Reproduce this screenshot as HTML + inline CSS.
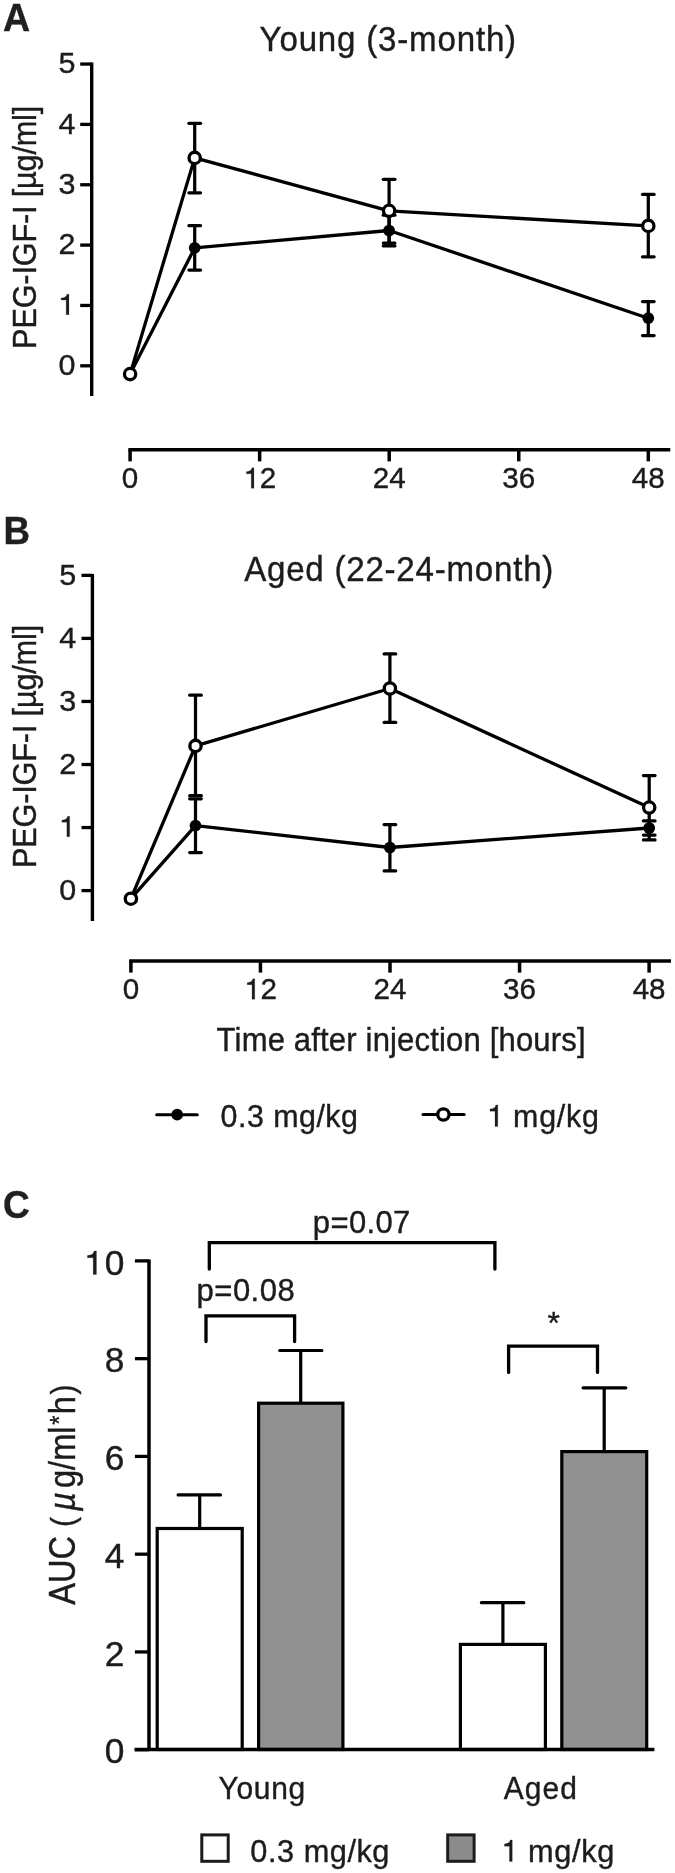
<!DOCTYPE html>
<html><head><meta charset="utf-8"><title>Figure</title>
<style>
html,body{margin:0;padding:0;background:#fff;}
svg{display:block;filter:grayscale(1);}
text{font-family:"Liberation Sans",sans-serif;font-kerning:normal;white-space:pre;}
</style></head><body>
<svg width="675" height="1873" viewBox="0 0 675 1873">
<rect width="675" height="1873" fill="#fff"/>
<text transform="translate(4.00,30.70) scale(0.9581,1)" x="-0.98" y="0" style="font-size:39.2px;letter-spacing:0.000px;font-weight:bold;" fill="#231f20" stroke="#231f20" stroke-width="0.4">A</text>
<text transform="translate(6.00,543.60) scale(0.9368,1)" x="-2.62" y="0" style="font-size:39.2px;letter-spacing:0.000px;font-weight:bold;" fill="#231f20" stroke="#231f20" stroke-width="0.4">B</text>
<text transform="translate(4.40,1217.70) scale(0.9348,1)" x="-1.62" y="0" style="font-size:39.6px;letter-spacing:0.000px;font-weight:bold;" fill="#231f20" stroke="#231f20" stroke-width="0.4">C</text>
<text transform="translate(260.30,50.90) scale(0.9400,1)" x="-0.77" y="0" style="font-size:35.2px;letter-spacing:0.860px;" fill="#1c1c1c" stroke="#1c1c1c" stroke-width="0.4">Young (3-month)</text>
<text transform="translate(35.60,346.40) rotate(-90) scale(0.9400,1)" x="-2.68" y="0" style="font-size:32.7px;letter-spacing:-0.216px;" fill="#1c1c1c" stroke="#1c1c1c" stroke-width="0.4">PEG-IGF-I [µg/ml]</text>
<line x1="91.70" y1="62.40" x2="91.70" y2="396.00" stroke="#000" stroke-width="3.4" stroke-linecap="butt"/>
<line x1="80.20" y1="365.80" x2="91.70" y2="365.80" stroke="#000" stroke-width="3.3" stroke-linecap="butt"/>
<text transform="translate(58.59,375.00) scale(1.0100,1)" x="0" y="0" text-anchor="start" style="font-size:30.2px;" fill="#1c1c1c" stroke="#1c1c1c" stroke-width="0.4">0</text>
<line x1="80.20" y1="305.45" x2="91.70" y2="305.45" stroke="#000" stroke-width="3.3" stroke-linecap="butt"/>
<path transform="translate(58.59,314.65) scale(30.502,-30.200)" d="M0.340 0 L0.340 0.678 L0.274 0.678 C0.262 0.602 0.200 0.554 0.084 0.550 L0.084 0.482 L0.248 0.482 L0.248 0 Z" fill="#1c1c1c" stroke="#1c1c1c" stroke-width="0.0066"/>
<line x1="80.20" y1="245.10" x2="91.70" y2="245.10" stroke="#000" stroke-width="3.3" stroke-linecap="butt"/>
<text transform="translate(58.59,254.30) scale(1.0100,1)" x="0" y="0" text-anchor="start" style="font-size:30.2px;" fill="#1c1c1c" stroke="#1c1c1c" stroke-width="0.4">2</text>
<line x1="80.20" y1="184.75" x2="91.70" y2="184.75" stroke="#000" stroke-width="3.3" stroke-linecap="butt"/>
<text transform="translate(58.59,193.95) scale(1.0100,1)" x="0" y="0" text-anchor="start" style="font-size:30.2px;" fill="#1c1c1c" stroke="#1c1c1c" stroke-width="0.4">3</text>
<line x1="80.20" y1="124.40" x2="91.70" y2="124.40" stroke="#000" stroke-width="3.3" stroke-linecap="butt"/>
<text transform="translate(58.59,133.60) scale(1.0100,1)" x="0" y="0" text-anchor="start" style="font-size:30.2px;" fill="#1c1c1c" stroke="#1c1c1c" stroke-width="0.4">4</text>
<line x1="80.20" y1="64.05" x2="91.70" y2="64.05" stroke="#000" stroke-width="3.3" stroke-linecap="butt"/>
<text transform="translate(58.59,73.25) scale(1.0100,1)" x="0" y="0" text-anchor="start" style="font-size:30.2px;" fill="#1c1c1c" stroke="#1c1c1c" stroke-width="0.4">5</text>
<line x1="128.35" y1="449.75" x2="670.30" y2="449.75" stroke="#000" stroke-width="3.5" stroke-linecap="butt"/>
<line x1="130.10" y1="449.75" x2="130.10" y2="461.35" stroke="#000" stroke-width="3.5" stroke-linecap="butt"/>
<text transform="translate(121.87,488.30) scale(0.9800,1)" x="0" y="0" text-anchor="start" style="font-size:30.2px;" fill="#1c1c1c" stroke="#1c1c1c" stroke-width="0.4">0</text>
<line x1="259.65" y1="449.75" x2="259.65" y2="461.35" stroke="#000" stroke-width="3.5" stroke-linecap="butt"/>
<path transform="translate(243.89,488.30) scale(29.596,-30.200)" d="M0.340 0 L0.340 0.678 L0.274 0.678 C0.262 0.602 0.200 0.554 0.084 0.550 L0.084 0.482 L0.248 0.482 L0.248 0 Z" fill="#1c1c1c" stroke="#1c1c1c" stroke-width="0.0066"/>
<text transform="translate(259.65,488.30) scale(0.9800,1)" x="0" y="0" text-anchor="start" style="font-size:30.2px;" fill="#1c1c1c" stroke="#1c1c1c" stroke-width="0.4">2</text>
<line x1="389.20" y1="449.75" x2="389.20" y2="461.35" stroke="#000" stroke-width="3.5" stroke-linecap="butt"/>
<text transform="translate(372.74,488.30) scale(0.9800,1)" x="0" y="0" text-anchor="start" style="font-size:30.2px;" fill="#1c1c1c" stroke="#1c1c1c" stroke-width="0.4">2</text>
<text transform="translate(389.20,488.30) scale(0.9800,1)" x="0" y="0" text-anchor="start" style="font-size:30.2px;" fill="#1c1c1c" stroke="#1c1c1c" stroke-width="0.4">4</text>
<line x1="518.76" y1="449.75" x2="518.76" y2="461.35" stroke="#000" stroke-width="3.5" stroke-linecap="butt"/>
<text transform="translate(502.30,488.30) scale(0.9800,1)" x="0" y="0" text-anchor="start" style="font-size:30.2px;" fill="#1c1c1c" stroke="#1c1c1c" stroke-width="0.4">3</text>
<text transform="translate(518.76,488.30) scale(0.9800,1)" x="0" y="0" text-anchor="start" style="font-size:30.2px;" fill="#1c1c1c" stroke="#1c1c1c" stroke-width="0.4">6</text>
<line x1="648.31" y1="449.75" x2="648.31" y2="461.35" stroke="#000" stroke-width="3.5" stroke-linecap="butt"/>
<text transform="translate(631.85,488.30) scale(0.9800,1)" x="0" y="0" text-anchor="start" style="font-size:30.2px;" fill="#1c1c1c" stroke="#1c1c1c" stroke-width="0.4">4</text>
<text transform="translate(648.31,488.30) scale(0.9800,1)" x="0" y="0" text-anchor="start" style="font-size:30.2px;" fill="#1c1c1c" stroke="#1c1c1c" stroke-width="0.4">8</text>
<polyline points="130.10,374.10 194.70,247.90 389.10,230.50 648.30,318.20" fill="none" stroke="#000" stroke-width="3.3" stroke-linejoin="round"/>
<polyline points="130.10,374.10 194.70,157.90 389.10,210.80 648.30,225.90" fill="none" stroke="#000" stroke-width="3.3" stroke-linejoin="round"/>
<line x1="194.70" y1="225.70" x2="194.70" y2="270.00" stroke="#000" stroke-width="3.25" stroke-linecap="butt"/>
<line x1="188.90" y1="225.70" x2="200.50" y2="225.70" stroke="#000" stroke-width="3.25" stroke-linecap="round"/>
<line x1="188.90" y1="270.00" x2="200.50" y2="270.00" stroke="#000" stroke-width="3.25" stroke-linecap="round"/>
<line x1="389.10" y1="215.20" x2="389.10" y2="245.90" stroke="#000" stroke-width="3.25" stroke-linecap="butt"/>
<line x1="383.30" y1="215.20" x2="394.90" y2="215.20" stroke="#000" stroke-width="3.25" stroke-linecap="round"/>
<line x1="383.30" y1="245.90" x2="394.90" y2="245.90" stroke="#000" stroke-width="3.25" stroke-linecap="round"/>
<line x1="648.30" y1="301.50" x2="648.30" y2="335.60" stroke="#000" stroke-width="3.25" stroke-linecap="butt"/>
<line x1="642.50" y1="301.50" x2="654.10" y2="301.50" stroke="#000" stroke-width="3.25" stroke-linecap="round"/>
<line x1="642.50" y1="335.60" x2="654.10" y2="335.60" stroke="#000" stroke-width="3.25" stroke-linecap="round"/>
<line x1="194.70" y1="123.30" x2="194.70" y2="192.80" stroke="#000" stroke-width="3.25" stroke-linecap="butt"/>
<line x1="188.90" y1="123.30" x2="200.50" y2="123.30" stroke="#000" stroke-width="3.25" stroke-linecap="round"/>
<line x1="188.90" y1="192.80" x2="200.50" y2="192.80" stroke="#000" stroke-width="3.25" stroke-linecap="round"/>
<line x1="389.10" y1="179.30" x2="389.10" y2="243.10" stroke="#000" stroke-width="3.25" stroke-linecap="butt"/>
<line x1="383.30" y1="179.30" x2="394.90" y2="179.30" stroke="#000" stroke-width="3.25" stroke-linecap="round"/>
<line x1="383.30" y1="243.10" x2="394.90" y2="243.10" stroke="#000" stroke-width="3.25" stroke-linecap="round"/>
<line x1="648.30" y1="194.40" x2="648.30" y2="256.80" stroke="#000" stroke-width="3.25" stroke-linecap="butt"/>
<line x1="642.50" y1="194.40" x2="654.10" y2="194.40" stroke="#000" stroke-width="3.25" stroke-linecap="round"/>
<line x1="642.50" y1="256.80" x2="654.10" y2="256.80" stroke="#000" stroke-width="3.25" stroke-linecap="round"/>
<circle cx="130.10" cy="374.10" r="5.85" fill="#000"/>
<circle cx="194.70" cy="247.90" r="5.85" fill="#000"/>
<circle cx="389.10" cy="230.50" r="5.85" fill="#000"/>
<circle cx="648.30" cy="318.20" r="5.85" fill="#000"/>
<circle cx="130.10" cy="374.10" r="5.65" fill="#fff" stroke="#000" stroke-width="3.3"/>
<circle cx="194.70" cy="157.90" r="5.65" fill="#fff" stroke="#000" stroke-width="3.3"/>
<circle cx="389.10" cy="210.80" r="5.65" fill="#fff" stroke="#000" stroke-width="3.3"/>
<circle cx="648.30" cy="225.90" r="5.65" fill="#fff" stroke="#000" stroke-width="3.3"/>
<text transform="translate(244.20,581.00) scale(0.9400,1)" x="-0.07" y="0" style="font-size:35.2px;letter-spacing:0.820px;" fill="#1c1c1c" stroke="#1c1c1c" stroke-width="0.4">Aged (22-24-month)</text>
<text transform="translate(36.20,865.60) rotate(-90) scale(0.9400,1)" x="-2.68" y="0" style="font-size:32.7px;letter-spacing:-0.209px;" fill="#1c1c1c" stroke="#1c1c1c" stroke-width="0.4">PEG-IGF-I [µg/ml]</text>
<line x1="92.40" y1="573.90" x2="92.40" y2="920.90" stroke="#000" stroke-width="3.4" stroke-linecap="butt"/>
<line x1="81.50" y1="890.60" x2="92.40" y2="890.60" stroke="#000" stroke-width="3.3" stroke-linecap="butt"/>
<text transform="translate(59.29,899.80) scale(1.0100,1)" x="0" y="0" text-anchor="start" style="font-size:30.2px;" fill="#1c1c1c" stroke="#1c1c1c" stroke-width="0.4">0</text>
<line x1="81.50" y1="827.55" x2="92.40" y2="827.55" stroke="#000" stroke-width="3.3" stroke-linecap="butt"/>
<path transform="translate(59.29,836.75) scale(30.502,-30.200)" d="M0.340 0 L0.340 0.678 L0.274 0.678 C0.262 0.602 0.200 0.554 0.084 0.550 L0.084 0.482 L0.248 0.482 L0.248 0 Z" fill="#1c1c1c" stroke="#1c1c1c" stroke-width="0.0066"/>
<line x1="81.50" y1="764.50" x2="92.40" y2="764.50" stroke="#000" stroke-width="3.3" stroke-linecap="butt"/>
<text transform="translate(59.29,773.70) scale(1.0100,1)" x="0" y="0" text-anchor="start" style="font-size:30.2px;" fill="#1c1c1c" stroke="#1c1c1c" stroke-width="0.4">2</text>
<line x1="81.50" y1="701.45" x2="92.40" y2="701.45" stroke="#000" stroke-width="3.3" stroke-linecap="butt"/>
<text transform="translate(59.29,710.65) scale(1.0100,1)" x="0" y="0" text-anchor="start" style="font-size:30.2px;" fill="#1c1c1c" stroke="#1c1c1c" stroke-width="0.4">3</text>
<line x1="81.50" y1="638.40" x2="92.40" y2="638.40" stroke="#000" stroke-width="3.3" stroke-linecap="butt"/>
<text transform="translate(59.29,647.60) scale(1.0100,1)" x="0" y="0" text-anchor="start" style="font-size:30.2px;" fill="#1c1c1c" stroke="#1c1c1c" stroke-width="0.4">4</text>
<line x1="81.50" y1="575.35" x2="92.40" y2="575.35" stroke="#000" stroke-width="3.3" stroke-linecap="butt"/>
<text transform="translate(59.29,584.55) scale(1.0100,1)" x="0" y="0" text-anchor="start" style="font-size:30.2px;" fill="#1c1c1c" stroke="#1c1c1c" stroke-width="0.4">5</text>
<line x1="129.15" y1="961.00" x2="671.00" y2="961.00" stroke="#000" stroke-width="3.5" stroke-linecap="butt"/>
<line x1="130.90" y1="961.00" x2="130.90" y2="972.60" stroke="#000" stroke-width="3.5" stroke-linecap="butt"/>
<text transform="translate(122.67,999.30) scale(0.9800,1)" x="0" y="0" text-anchor="start" style="font-size:30.2px;" fill="#1c1c1c" stroke="#1c1c1c" stroke-width="0.4">0</text>
<line x1="260.45" y1="961.00" x2="260.45" y2="972.60" stroke="#000" stroke-width="3.5" stroke-linecap="butt"/>
<path transform="translate(244.69,999.30) scale(29.596,-30.200)" d="M0.340 0 L0.340 0.678 L0.274 0.678 C0.262 0.602 0.200 0.554 0.084 0.550 L0.084 0.482 L0.248 0.482 L0.248 0 Z" fill="#1c1c1c" stroke="#1c1c1c" stroke-width="0.0066"/>
<text transform="translate(260.45,999.30) scale(0.9800,1)" x="0" y="0" text-anchor="start" style="font-size:30.2px;" fill="#1c1c1c" stroke="#1c1c1c" stroke-width="0.4">2</text>
<line x1="390.00" y1="961.00" x2="390.00" y2="972.60" stroke="#000" stroke-width="3.5" stroke-linecap="butt"/>
<text transform="translate(373.54,999.30) scale(0.9800,1)" x="0" y="0" text-anchor="start" style="font-size:30.2px;" fill="#1c1c1c" stroke="#1c1c1c" stroke-width="0.4">2</text>
<text transform="translate(390.00,999.30) scale(0.9800,1)" x="0" y="0" text-anchor="start" style="font-size:30.2px;" fill="#1c1c1c" stroke="#1c1c1c" stroke-width="0.4">4</text>
<line x1="519.56" y1="961.00" x2="519.56" y2="972.60" stroke="#000" stroke-width="3.5" stroke-linecap="butt"/>
<text transform="translate(503.10,999.30) scale(0.9800,1)" x="0" y="0" text-anchor="start" style="font-size:30.2px;" fill="#1c1c1c" stroke="#1c1c1c" stroke-width="0.4">3</text>
<text transform="translate(519.56,999.30) scale(0.9800,1)" x="0" y="0" text-anchor="start" style="font-size:30.2px;" fill="#1c1c1c" stroke="#1c1c1c" stroke-width="0.4">6</text>
<line x1="649.11" y1="961.00" x2="649.11" y2="972.60" stroke="#000" stroke-width="3.5" stroke-linecap="butt"/>
<text transform="translate(632.65,999.30) scale(0.9800,1)" x="0" y="0" text-anchor="start" style="font-size:30.2px;" fill="#1c1c1c" stroke="#1c1c1c" stroke-width="0.4">4</text>
<text transform="translate(649.11,999.30) scale(0.9800,1)" x="0" y="0" text-anchor="start" style="font-size:30.2px;" fill="#1c1c1c" stroke="#1c1c1c" stroke-width="0.4">8</text>
<polyline points="130.90,898.70 195.50,825.60 389.90,847.50 649.20,828.00" fill="none" stroke="#000" stroke-width="3.3" stroke-linejoin="round"/>
<polyline points="130.90,898.70 195.50,745.90 389.90,688.50 649.20,807.60" fill="none" stroke="#000" stroke-width="3.3" stroke-linejoin="round"/>
<line x1="195.50" y1="798.80" x2="195.50" y2="852.50" stroke="#000" stroke-width="3.25" stroke-linecap="butt"/>
<line x1="189.70" y1="798.80" x2="201.30" y2="798.80" stroke="#000" stroke-width="3.25" stroke-linecap="round"/>
<line x1="189.70" y1="852.50" x2="201.30" y2="852.50" stroke="#000" stroke-width="3.25" stroke-linecap="round"/>
<line x1="389.90" y1="824.50" x2="389.90" y2="870.90" stroke="#000" stroke-width="3.25" stroke-linecap="butt"/>
<line x1="384.10" y1="824.50" x2="395.70" y2="824.50" stroke="#000" stroke-width="3.25" stroke-linecap="round"/>
<line x1="384.10" y1="870.90" x2="395.70" y2="870.90" stroke="#000" stroke-width="3.25" stroke-linecap="round"/>
<line x1="649.20" y1="820.90" x2="649.20" y2="835.10" stroke="#000" stroke-width="3.25" stroke-linecap="butt"/>
<line x1="643.40" y1="820.90" x2="655.00" y2="820.90" stroke="#000" stroke-width="3.25" stroke-linecap="round"/>
<line x1="643.40" y1="835.10" x2="655.00" y2="835.10" stroke="#000" stroke-width="3.25" stroke-linecap="round"/>
<line x1="195.50" y1="695.20" x2="195.50" y2="795.70" stroke="#000" stroke-width="3.25" stroke-linecap="butt"/>
<line x1="189.70" y1="695.20" x2="201.30" y2="695.20" stroke="#000" stroke-width="3.25" stroke-linecap="round"/>
<line x1="189.70" y1="795.70" x2="201.30" y2="795.70" stroke="#000" stroke-width="3.25" stroke-linecap="round"/>
<line x1="389.90" y1="653.90" x2="389.90" y2="722.40" stroke="#000" stroke-width="3.25" stroke-linecap="butt"/>
<line x1="384.10" y1="653.90" x2="395.70" y2="653.90" stroke="#000" stroke-width="3.25" stroke-linecap="round"/>
<line x1="384.10" y1="722.40" x2="395.70" y2="722.40" stroke="#000" stroke-width="3.25" stroke-linecap="round"/>
<line x1="649.20" y1="775.60" x2="649.20" y2="839.90" stroke="#000" stroke-width="3.25" stroke-linecap="butt"/>
<line x1="643.40" y1="775.60" x2="655.00" y2="775.60" stroke="#000" stroke-width="3.25" stroke-linecap="round"/>
<line x1="643.40" y1="839.90" x2="655.00" y2="839.90" stroke="#000" stroke-width="3.25" stroke-linecap="round"/>
<circle cx="130.90" cy="898.70" r="5.85" fill="#000"/>
<circle cx="195.50" cy="825.60" r="5.85" fill="#000"/>
<circle cx="389.90" cy="847.50" r="5.85" fill="#000"/>
<circle cx="649.20" cy="828.00" r="5.85" fill="#000"/>
<circle cx="130.90" cy="898.70" r="5.65" fill="#fff" stroke="#000" stroke-width="3.3"/>
<circle cx="195.50" cy="745.90" r="5.65" fill="#fff" stroke="#000" stroke-width="3.3"/>
<circle cx="389.90" cy="688.50" r="5.65" fill="#fff" stroke="#000" stroke-width="3.3"/>
<circle cx="649.20" cy="807.60" r="5.65" fill="#fff" stroke="#000" stroke-width="3.3"/>
<text transform="translate(217.30,1050.60) scale(0.9500,1)" x="-0.73" y="0" style="font-size:32.7px;letter-spacing:0.167px;" fill="#1c1c1c" stroke="#1c1c1c" stroke-width="0.4">Time after injection [hours]</text>
<line x1="156.70" y1="1114.70" x2="197.30" y2="1114.70" stroke="#000" stroke-width="3" stroke-linecap="round"/>
<circle cx="177.20" cy="1114.70" r="5.85" fill="#000"/>
<text transform="translate(221.80,1126.60) scale(0.9500,1)" x="-1.25" y="0" style="font-size:32px;letter-spacing:0.508px;" fill="#1c1c1c" stroke="#1c1c1c" stroke-width="0.4">0.3 mg/kg</text>
<line x1="423.00" y1="1114.50" x2="464.20" y2="1114.50" stroke="#000" stroke-width="3" stroke-linecap="round"/>
<circle cx="443.40" cy="1114.50" r="5.65" fill="#fff" stroke="#000" stroke-width="3.3"/>
<path transform="translate(487.45,1126.60) scale(30.400,-32.000)" d="M0.340 0 L0.340 0.678 L0.274 0.678 C0.262 0.602 0.200 0.554 0.084 0.550 L0.084 0.482 L0.248 0.482 L0.248 0 Z" fill="#1c1c1c" stroke="#1c1c1c" stroke-width="0.0063"/>
<text transform="translate(515.10,1126.60) scale(0.9500,1)" x="-2.12" y="0" style="font-size:32px;letter-spacing:0.788px;" fill="#1c1c1c" stroke="#1c1c1c" stroke-width="0.4">mg/kg</text>
<line x1="149.00" y1="1259.50" x2="149.00" y2="1749.50" stroke="#000" stroke-width="3.5" stroke-linecap="butt"/>
<line x1="134.90" y1="1749.70" x2="149.00" y2="1749.70" stroke="#000" stroke-width="3.3" stroke-linecap="butt"/>
<text transform="translate(104.87,1763.30) scale(1.0200,1)" x="0" y="0" text-anchor="start" style="font-size:34.6px;" fill="#1c1c1c" stroke="#1c1c1c" stroke-width="0.4">0</text>
<line x1="134.90" y1="1651.94" x2="149.00" y2="1651.94" stroke="#000" stroke-width="3.3" stroke-linecap="butt"/>
<text transform="translate(104.87,1665.54) scale(1.0200,1)" x="0" y="0" text-anchor="start" style="font-size:34.6px;" fill="#1c1c1c" stroke="#1c1c1c" stroke-width="0.4">2</text>
<line x1="134.90" y1="1554.18" x2="149.00" y2="1554.18" stroke="#000" stroke-width="3.3" stroke-linecap="butt"/>
<text transform="translate(104.87,1567.78) scale(1.0200,1)" x="0" y="0" text-anchor="start" style="font-size:34.6px;" fill="#1c1c1c" stroke="#1c1c1c" stroke-width="0.4">4</text>
<line x1="134.90" y1="1456.42" x2="149.00" y2="1456.42" stroke="#000" stroke-width="3.3" stroke-linecap="butt"/>
<text transform="translate(104.87,1470.02) scale(1.0200,1)" x="0" y="0" text-anchor="start" style="font-size:34.6px;" fill="#1c1c1c" stroke="#1c1c1c" stroke-width="0.4">6</text>
<line x1="134.90" y1="1358.66" x2="149.00" y2="1358.66" stroke="#000" stroke-width="3.3" stroke-linecap="butt"/>
<text transform="translate(104.87,1372.26) scale(1.0200,1)" x="0" y="0" text-anchor="start" style="font-size:34.6px;" fill="#1c1c1c" stroke="#1c1c1c" stroke-width="0.4">8</text>
<line x1="134.90" y1="1260.90" x2="149.00" y2="1260.90" stroke="#000" stroke-width="3.3" stroke-linecap="butt"/>
<path transform="translate(84.44,1274.50) scale(35.292,-34.600)" d="M0.340 0 L0.340 0.678 L0.274 0.678 C0.262 0.602 0.200 0.554 0.084 0.550 L0.084 0.482 L0.248 0.482 L0.248 0 Z" fill="#1c1c1c" stroke="#1c1c1c" stroke-width="0.0058"/>
<text transform="translate(104.87,1274.50) scale(1.0200,1)" x="0" y="0" text-anchor="start" style="font-size:34.6px;" fill="#1c1c1c" stroke="#1c1c1c" stroke-width="0.4">0</text>
<line x1="199.70" y1="1494.90" x2="199.70" y2="1528.50" stroke="#000" stroke-width="3.2" stroke-linecap="butt"/>
<line x1="178.10" y1="1494.90" x2="220.50" y2="1494.90" stroke="#000" stroke-width="3.2" stroke-linecap="round"/>
<line x1="300.70" y1="1350.50" x2="300.70" y2="1403.20" stroke="#000" stroke-width="3.2" stroke-linecap="butt"/>
<line x1="279.70" y1="1350.50" x2="321.80" y2="1350.50" stroke="#000" stroke-width="3.2" stroke-linecap="round"/>
<line x1="502.90" y1="1602.70" x2="502.90" y2="1644.40" stroke="#000" stroke-width="3.2" stroke-linecap="butt"/>
<line x1="481.40" y1="1602.70" x2="523.80" y2="1602.70" stroke="#000" stroke-width="3.2" stroke-linecap="round"/>
<line x1="604.20" y1="1387.80" x2="604.20" y2="1451.60" stroke="#000" stroke-width="3.2" stroke-linecap="butt"/>
<line x1="583.10" y1="1387.80" x2="625.80" y2="1387.80" stroke="#000" stroke-width="3.2" stroke-linecap="round"/>
<rect x="157.20" y="1528.50" width="85.00" height="221.00" fill="#fff" stroke="#000" stroke-width="3.2"/>
<rect x="258.60" y="1403.20" width="84.30" height="346.30" fill="#919191" stroke="#000" stroke-width="3.2"/>
<rect x="460.40" y="1644.40" width="85.00" height="105.10" fill="#fff" stroke="#000" stroke-width="3.2"/>
<rect x="561.80" y="1451.60" width="84.90" height="297.90" fill="#919191" stroke="#000" stroke-width="3.2"/>
<line x1="134.50" y1="1749.50" x2="654.40" y2="1749.50" stroke="#000" stroke-width="3.5" stroke-linecap="butt"/>
<polyline points="209.30,1269.00 209.30,1242.70 494.90,1242.70 494.90,1269.00" fill="none" stroke="#000" stroke-width="3.3" stroke-linecap="round" stroke-linejoin="miter"/>
<polyline points="206.00,1341.50 206.00,1315.90 294.60,1315.90 294.60,1341.50" fill="none" stroke="#000" stroke-width="3.3" stroke-linecap="round" stroke-linejoin="miter"/>
<polyline points="508.60,1372.40 508.60,1346.20 597.50,1346.20 597.50,1372.40" fill="none" stroke="#000" stroke-width="3.3" stroke-linecap="round" stroke-linejoin="miter"/>
<text transform="translate(314.80,1232.70) scale(0.9700,1)" x="-2.06" y="0" style="font-size:32px;letter-spacing:0.363px;" fill="#1c1c1c" stroke="#1c1c1c" stroke-width="0.4">p=0.07</text>
<text transform="translate(198.50,1300.60) scale(0.9700,1)" x="-2.06" y="0" style="font-size:32px;letter-spacing:0.505px;" fill="#1c1c1c" stroke="#1c1c1c" stroke-width="0.4">p=0.08</text>
<text transform="translate(548.00,1333.80) scale(0.9967,1)" x="-0.52" y="0" style="font-size:32px;letter-spacing:0.000px;" fill="#1c1c1c" stroke="#1c1c1c" stroke-width="0.4">*</text>
<text transform="translate(219.20,1799.10) scale(0.9400,1)" x="-0.70" y="0" style="font-size:31.9px;letter-spacing:0.732px;" fill="#1c1c1c" stroke="#1c1c1c" stroke-width="0.4">Young</text>
<text transform="translate(503.90,1799.30) scale(0.9400,1)" x="-0.06" y="0" style="font-size:31.9px;letter-spacing:1.091px;" fill="#1c1c1c" stroke="#1c1c1c" stroke-width="0.4">Aged</text>
<text transform="translate(74.70,1604.70) rotate(-90) scale(0.8850,1)" x="-0.07" y="0" style="font-size:36.9px;letter-spacing:0.000px;" fill="#1c1c1c" stroke="#1c1c1c" stroke-width="0.4">AUC</text>
<text transform="translate(74.10,1525.10) rotate(-90) scale(0.8850,1)" x="-2.10" y="0" style="font-size:33.8px;letter-spacing:0.000px;" fill="#1c1c1c" stroke="#1c1c1c" stroke-width="0.4">(</text>
<text transform="translate(74.70,1510.90) rotate(-90) scale(0.8850,1)" x="0.02" y="0" style="font-size:36.9px;letter-spacing:0.000px;font-style:italic;" fill="#1c1c1c" stroke="#1c1c1c" stroke-width="0.4">µ</text>
<text transform="translate(74.70,1486.70) rotate(-90) scale(0.8850,1)" x="-1.55" y="0" style="font-size:36.9px;letter-spacing:0.000px;" fill="#1c1c1c" stroke="#1c1c1c" stroke-width="0.4">g/ml</text>
<text transform="translate(67.60,1424.40) rotate(-90) scale(0.8850,1)" x="-0.43" y="0" style="font-size:26.6px;letter-spacing:0.000px;" fill="#1c1c1c" stroke="#1c1c1c" stroke-width="0.4">*</text>
<text transform="translate(74.70,1412.00) rotate(-90) scale(0.8850,1)" x="-2.56" y="0" style="font-size:36.9px;letter-spacing:0.000px;" fill="#1c1c1c" stroke="#1c1c1c" stroke-width="0.4">h</text>
<text transform="translate(74.10,1394.20) rotate(-90) scale(0.8850,1)" x="-0.20" y="0" style="font-size:33.8px;letter-spacing:0.000px;" fill="#1c1c1c" stroke="#1c1c1c" stroke-width="0.4">)</text>
<rect x="201.8" y="1834.9" width="26.4" height="26.4" fill="#fff" stroke="#1c1c1c" stroke-width="3"/>
<rect x="447.7" y="1834.9" width="26.4" height="26.4" fill="#8c8c8c" stroke="#1c1c1c" stroke-width="3"/>
<text transform="translate(251.50,1861.60) scale(0.9600,1)" x="-1.25" y="0" style="font-size:32px;letter-spacing:0.558px;" fill="#1c1c1c" stroke="#1c1c1c" stroke-width="0.4">0.3 mg/kg</text>
<path transform="translate(501.82,1861.60) scale(30.720,-32.000)" d="M0.340 0 L0.340 0.678 L0.274 0.678 C0.262 0.602 0.200 0.554 0.084 0.550 L0.084 0.482 L0.248 0.482 L0.248 0 Z" fill="#1c1c1c" stroke="#1c1c1c" stroke-width="0.0063"/>
<text transform="translate(530.10,1861.60) scale(0.9600,1)" x="-2.12" y="0" style="font-size:32px;letter-spacing:0.694px;" fill="#1c1c1c" stroke="#1c1c1c" stroke-width="0.4">mg/kg</text>
</svg>
</body></html>
